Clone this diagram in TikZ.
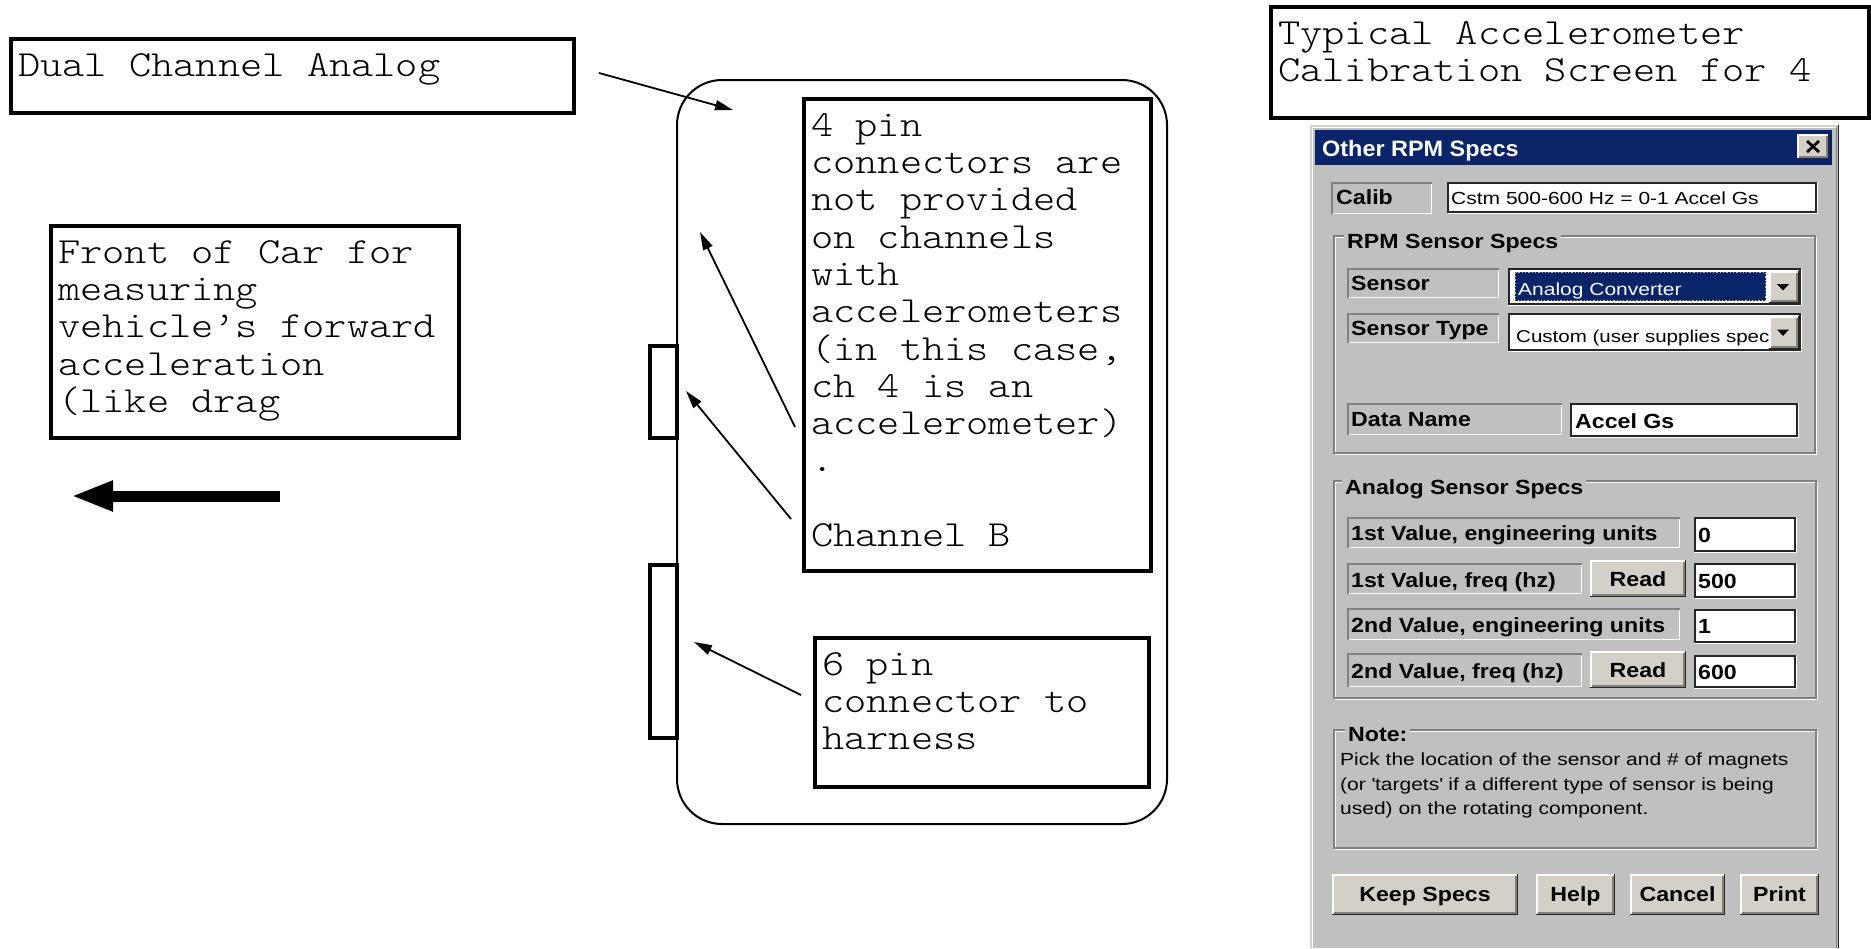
\documentclass[tikz,border=0pt]{standalone}
\usepackage{fontspec}
\usetikzlibrary{arrows.meta}
\newfontfamily\monofnt[FakeStretch=1.15]{lmmonolt10-regular.otf}
\newfontfamily\uiregfnt[FakeStretch=1.2]{Liberation Sans}
\newfontfamily\uibfnt[FakeStretch=1.13]{Liberation Sans}
\newfontfamily\uititfnt[FakeStretch=1.05]{Liberation Sans}
\definecolor{winbg}{RGB}{192,192,192}
\definecolor{btnface}{RGB}{212,208,200}
\definecolor{navy}{RGB}{10,36,106}
\definecolor{focusy}{RGB}{215,195,110}
\definecolor{darkedge}{RGB}{128,128,128}
% raised button
\newcommand{\raisd}[4]{%
  \fill[btnface] (#1,#2) rectangle (#3,#4);
  \draw[white,line width=1.5pt] (#1+0.75,#4-1.5) -- (#1+0.75,#2+0.75) -- (#3-1.5,#2+0.75);
  \draw[black!85,line width=1.5pt] (#1,#4-0.75) -- (#3-0.75,#4-0.75) -- (#3-0.75,#2);
  \draw[darkedge,line width=1.5pt] (#1+1.5,#4-2.25) -- (#3-2.25,#4-2.25) -- (#3-2.25,#2+1.5);
}
% sunken static label
\newcommand{\sunk}[4]{%
  \draw[darkedge,line width=1.5pt] (#1+0.75,#4) -- (#1+0.75,#2+0.75) -- (#3,#2+0.75);
  \draw[white,line width=1.5pt] (#1+1.5,#4-0.75) -- (#3-0.75,#4-0.75) -- (#3-0.75,#2+1.5);
}
% edit field
\newcommand{\editb}[4]{%
  \fill[white] (#1,#2) rectangle (#3,#4);
  \draw[white,line width=1.5pt] (#1,#4-0.75) -- (#3-0.75,#4-0.75) -- (#3-0.75,#2);
  \draw[black!85,line width=2pt] (#1+1,#2+1) rectangle (#3-2,#4-2);
}
% etched group frame
\newcommand{\etch}[4]{%
  \draw[white,line width=1.5pt] (#1+2.25,#2+2.25) rectangle (#3-0.75,#4-0.75);
  \draw[darkedge,line width=1.5pt] (#1+0.75,#2+0.75) rectangle (#3-2.25,#4-2.25);
}
\tikzset{
  tbox/.style={draw, line width=3.5pt, inner sep=0pt, outer sep=0pt, anchor=north west},
  mtext/.style={font=\monofnt\fontsize{36.8pt}{37.3pt}\selectfont, align=left, inner sep=0pt, anchor=north west},
  tabbox/.style={draw, line width=4pt, fill=white, inner sep=0pt, outer sep=0pt, anchor=north west, minimum width=27pt},
  thinarrow/.style={line width=1.8pt, -{Triangle[length=18pt,width=10pt]}},
  lbl/.style={font=\uibfnt\bfseries\fontsize{20.5pt}{24pt}\selectfont, inner sep=0pt, anchor=base west},
  reg/.style={font=\uiregfnt\fontsize{17.5pt}{25pt}\selectfont, inner sep=0pt, anchor=base west},
  btnlbl/.style={lbl, anchor=base},
  grptitle/.style={lbl, fill=winbg, inner xsep=3pt, inner ysep=2pt},
}
\begin{document}
\begin{tikzpicture}[x=1pt,y=-1pt]
\useasboundingbox (0,0) rectangle (1871,948);
\fill[white] (0,0) rectangle (1871,948);

% ---------- left: annotation boxes ----------
\node[tbox, minimum width=563pt, minimum height=74pt] (dual) at (11,39) {};
\node[mtext] (dualtxt) at ([shift={(7,10.9)}]dual.north west) {\strut Dual Channel Analog};

\node[tbox, minimum width=408pt, minimum height=212pt] (front) at (51,226) {};
\node[mtext] (fronttxt) at ([shift={(7,10.9)}]front.north west) {\strut Front of Car for\\measuring\\vehicle’s forward\\acceleration\\(like drag};

\coordinate (carS) at (280,496);
\coordinate (carT) at (71,496);
\draw[line width=11pt, -{Triangle[length=42pt,width=28pt]}] (carS) -- (carT);

% ---------- device ----------
\node[draw, line width=2pt, rounded corners=45pt, minimum width=490pt, minimum height=744pt, inner sep=0pt, outer sep=0pt, anchor=north west] (dev) at (677,80) {};
\node[tabbox, minimum height=92pt] (tab1) at (650,346) {};
\node[tabbox, minimum height=173pt] (tab2) at (650,565) {};

\node[tbox, minimum width=347pt, minimum height=472pt] (four) at (804,99) {};
\node[mtext] (fourtxt) at ([shift={(7,10.9)}]four.north west) {\strut 4 pin\\connectors are\\not provided\\on channels\\with\\accelerometers\\(in this case,\\ch 4 is an\\accelerometer)\\.\\[37.3pt]Channel B};

\node[tbox, minimum width=334pt, minimum height=149pt] (six) at (815,638) {};
\node[mtext] (sixtxt) at ([shift={(7,10.9)}]six.north west) {\strut 6 pin\\connector to\\harness};

% arrows
\coordinate (a1s) at (599,73);  \coordinate (a1t) at (733,110);
\coordinate (a2s) at (795,427); \coordinate (a2t) at (700,232);
\coordinate (a3s) at (791,519); \coordinate (a3t) at (686,391);
\coordinate (a4s) at (801,695); \coordinate (a4t) at (694,642);
\draw[thinarrow] (a1s) -- (a1t);
\draw[thinarrow] (a2s) -- (a2t);
\draw[thinarrow] (a3s) -- (a3t);
\draw[thinarrow] (a4s) -- (a4t);

% ---------- right: title box ----------
\node[tbox, minimum width=598pt, minimum height=111pt] (ttl) at (1271,7) {};
\node[mtext] (ttltxt) at ([shift={(7,10.9)}]ttl.north west) {\strut Typical Accelerometer\\Calibration Screen for 4};

% ---------- dialog window ----------
\fill[winbg] (1310,125) rectangle (1839,948);
\draw[btnface,line width=1.5pt] (1310.75,948) -- (1310.75,125.75) -- (1838,125.75);
\draw[white,line width=1.5pt] (1312.25,948) -- (1312.25,127.25) -- (1836,127.25);
\draw[darkedge,line width=1.5pt] (1836.25,127) -- (1836.25,948);
\draw[black!85,line width=1.5pt] (1838.25,125) -- (1838.25,948);
\fill[navy] (1315,130) rectangle (1832,165);
\node[font=\uititfnt\bfseries\fontsize{22.3pt}{26pt}\selectfont, text=white, inner sep=0pt, anchor=base west] (wtitle) at (1322,156) {Other RPM Specs};
\raisd{1797}{134}{1829}{159}
\draw[line width=2.8pt] (1807,141) -- (1819,152);
\draw[line width=2.8pt] (1819,141) -- (1807,152);

% Calib
\sunk{1331}{182}{1432}{214}
\node[lbl] (calibl) at (1336,204) {Calib};
\editb{1447}{182}{1818}{214}
\node[reg] (calibv) at (1451,204) {Cstm 500-600 Hz = 0-1 Accel Gs};

% RPM Sensor Specs group
\etch{1333}{235}{1817}{455}
\node[grptitle] (rpmg) at (1344,248) {RPM Sensor Specs};
\sunk{1347}{268}{1499}{298}
\node[lbl] (sensl) at (1351,290) {Sensor};
\editb{1508}{268}{1802}{306}
\fill[navy] (1515,272) rectangle (1766,301);
\draw[focusy, dotted, line width=1.3pt] (1515.6,272.6) rectangle (1765.4,300.4);
\node[reg, text=white] (sensv) at (1518,295) {Analog Converter};
\raisd{1769}{271}{1799}{303}
\fill (1777,284) -- (1789,284) -- (1783,290.5) -- cycle;

\sunk{1347}{313}{1499}{343}
\node[lbl] (senstl) at (1351,335) {Sensor Type};
\editb{1508}{313}{1802}{352}
\node[reg, font=\uiregfnt\fontsize{17.1pt}{25pt}\selectfont] (senstv) at (1516,342) {Custom (user supplies spec};
\raisd{1769}{316}{1799}{349}
\fill (1777,329.5) -- (1789,329.5) -- (1783,336) -- cycle;

\sunk{1347}{403}{1562}{435}
\node[lbl] (dnl) at (1351,426) {Data Name};
\editb{1570}{403}{1799}{438}
\node[lbl] (dnv) at (1575,428) {Accel Gs};

% Analog Sensor Specs group
\etch{1333}{480}{1818}{700}
\node[grptitle] (ang) at (1342,494) {Analog Sensor Specs};
\sunk{1347}{517}{1680}{548}
\node[lbl] (r1l) at (1351,540) {1st Value, engineering units};
\editb{1694}{517}{1797}{553}
\node[lbl] (r1v) at (1698,542) {0};

\sunk{1347}{563}{1582}{594}
\node[lbl] (r2l) at (1351,587) {1st Value, freq (hz)};
\raisd{1590}{560}{1686}{597}
\node[btnlbl] (read1) at (1638,586) {Read};
\editb{1694}{563}{1797}{599}
\node[lbl] (r2v) at (1698,588) {500};

\sunk{1347}{608}{1680}{640}
\node[lbl] (r3l) at (1351,632) {2nd Value, engineering units};
\editb{1694}{609}{1797}{644}
\node[lbl] (r3v) at (1698,633) {1};

\sunk{1347}{653}{1582}{687}
\node[lbl] (r4l) at (1351,678) {2nd Value, freq (hz)};
\raisd{1590}{651}{1686}{688}
\node[btnlbl] (read2) at (1638,677) {Read};
\editb{1694}{655}{1797}{689}
\node[lbl] (r4v) at (1698,679) {600};

% Note group
\etch{1333}{729}{1818}{850}
\node[grptitle] (noteg) at (1345,741) {Note:};
\node[reg] (n1) at (1340,765) {Pick the location of the sensor and \# of magnets};
\node[reg] (n2) at (1340,790) {(or \textquotesingle targets\textquotesingle\ if a different type of sensor is being};
\node[reg] (n3) at (1340,814) {used) on the rotating component.};

% buttons
\raisd{1332}{874}{1518}{915}
\node[btnlbl] (bkeep) at (1425,901) {Keep Specs};
\raisd{1536}{874}{1615}{915}
\node[btnlbl] (bhelp) at (1575.5,901) {Help};
\raisd{1630}{874}{1725}{915}
\node[btnlbl] (bcancel) at (1677.5,901) {Cancel};
\raisd{1740}{874}{1819}{915}
\node[btnlbl] (bprint) at (1779.5,901) {Print};
\end{tikzpicture}
\end{document}
